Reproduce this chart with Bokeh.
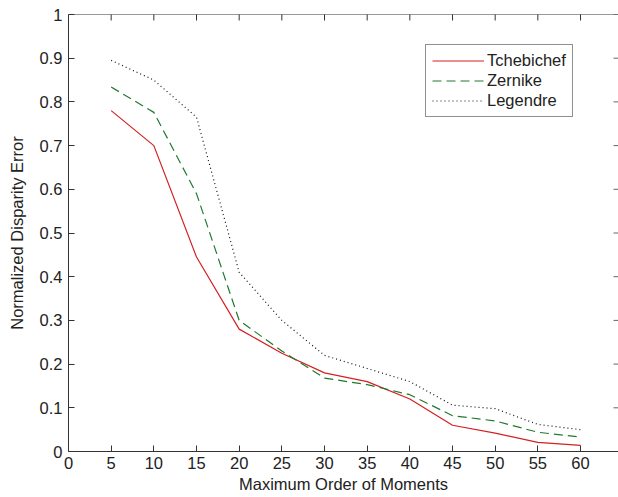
import math
from bokeh.plotting import figure
from bokeh.models import FixedTicker, Range1d, Legend, LegendItem, Span
from bokeh.embed import file_html
from bokeh.resources import INLINE

# ---- data ----
orders = [5, 10, 15, 20, 25, 30, 35, 40, 45, 50, 55, 60]
tchebichef = [0.78, 0.70, 0.445, 0.28, 0.225, 0.18, 0.16, 0.12, 0.06, 0.042, 0.021, 0.014]
zernike = [0.834, 0.776, 0.59, 0.30, 0.23, 0.168, 0.153, 0.13, 0.082, 0.07, 0.044, 0.033]
legendre = [0.895, 0.85, 0.765, 0.41, 0.30, 0.22, 0.19, 0.16, 0.106, 0.098, 0.062, 0.05]

x_ticks = [0, 5, 10, 15, 20, 25, 30, 35, 40, 45, 50, 55, 60, 65]
y_ticks = [0, 0.1, 0.2, 0.3, 0.4, 0.5, 0.6, 0.7, 0.8, 0.9, 1]
y_tick_labels = ["0", "0.1", "0.2", "0.3", "0.4", "0.5", "0.6", "0.7", "0.8", "0.9", "1"]
x_label = "Maximum Order of Moments"
y_label = "Normalized Disparity Error"

FONT = "Liberation Sans"
FS = "16.5px"
AXC = "#333333"

x_end = 64.45
y_end = 1

p = figure(width=618, height=497, output_backend="svg", toolbar_location=None,
           x_range=Range1d(0, x_end), y_range=Range1d(0, y_end),
           min_border_left=68, min_border_right=0, min_border_top=14, min_border_bottom=46,
           x_axis_label=x_label, y_axis_label=y_label)
p.background_fill_color = "white"
p.border_fill_color = "white"
p.grid.visible = False
p.outline_line_color = None

for ax in (p.xaxis[0], p.yaxis[0]):
    ax.axis_line_color = AXC
    ax.major_tick_line_color = AXC
    ax.major_tick_in = 6
    ax.major_tick_out = 0
    ax.minor_tick_line_color = None
    ax.major_label_text_font = FONT
    ax.major_label_text_font_size = FS
    ax.major_label_text_color = "#222222"
    ax.axis_label_text_font = FONT
    ax.axis_label_text_font_size = FS
    ax.axis_label_text_font_style = "normal"
    ax.axis_label_text_color = "#222222"

p.xaxis[0].ticker = FixedTicker(ticks=x_ticks)
p.yaxis[0].ticker = FixedTicker(ticks=y_ticks)
p.yaxis[0].major_label_overrides = {v: s for v, s in zip(y_ticks, y_tick_labels)}
p.xaxis[0].major_label_standoff = 5
p.xaxis[0].axis_label_standoff = 3
p.yaxis[0].major_label_standoff = 6
p.yaxis[0].axis_label_standoff = 11

# top edge of the box and inward tick marks on the top and right edges
p.add_layout(Span(location=y_end, dimension="width", line_color=AXC, line_width=1))
p.scatter(x_ticks, [y_end] * len(x_ticks), marker="dash", size=12, angle=math.pi / 2,
          line_color=AXC, line_width=1)
p.scatter([x_end] * len(y_ticks), y_ticks, marker="dash", size=10, angle=0,
          line_color="#666666", line_width=1)

r1 = p.line(orders, tchebichef, line_color="#d42020", line_width=1.2)
r2 = p.line(orders, zernike, line_color="#1f7a2e", line_width=1.2, line_dash="9 5")
r3 = p.line(orders, legendre, line_color="#111111", line_width=1.2, line_dash="1 3")

legend = Legend(items=[LegendItem(label="Tchebichef", renderers=[r1]),
                       LegendItem(label="Zernike", renderers=[r2]),
                       LegendItem(label="Legendre", renderers=[r3])],
                location=(357, 334))
legend.label_text_font = FONT
legend.label_text_font_size = FS
legend.label_text_color = "#222222"
legend.glyph_width = 52
legend.glyph_height = 17
legend.label_height = 17
legend.label_standoff = 3
legend.spacing = 1
legend.padding = 6
legend.margin = 0
legend.border_line_color = "#222222"
legend.border_line_width = 1
legend.background_fill_color = "white"
legend.background_fill_alpha = 1
p.add_layout(legend, "center")

open("out.html", "w").write(file_html(p, INLINE))
